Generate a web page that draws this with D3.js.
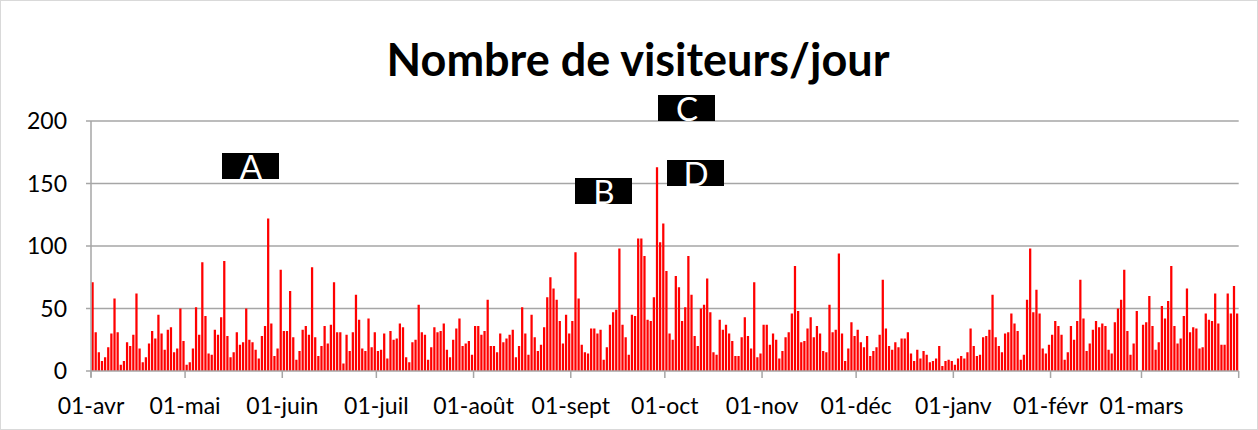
<!DOCTYPE html>
<meta charset="utf-8">
<style>
  body {
    margin: 0;
    background: #fff;
  }
  text {
    font-family: Lato, "Open Sans", sans-serif;
    fill: #000;
  }
</style>
<body>
<div id="chart"></div>
<script src="https://d3js.org/d3.v7.min.js"></script>
<script>
  // daily visitors, one array per month (avril 2015 -> mars 2016)
  const avr  = [71,31,15,8,11,19,30,58,31,5, 8,23,20,29,62,18,7,11,22,32, 26,45,30,17,33,35,15,18,50,24];
  const mai  = [5,7,18,51,29,87,44,14,13,33, 29,43,88,28,11,15,31,21,23,50, 25,23,17,10,28,36,122,38,12,18, 81];
  const juin = [32,32,64,27,9,16,33,36,29, 83,27,12,20,36,22,37,71,31,31, 6,29,16,31,61,41,18,16,42,19, 31];
  const juil = [16,17,30,10,32,25,26,38,35, 11,7,23,25,53,31,29,9,19,35, 31,32,38,17,11,25,34,42,20,22, 24,13];
  const aout = [36,36,29,32,57,20,20,15, 30,23,26,29,33,11,20,51,30,13, 45,27,16,21,35,59,75,66,57,40, 22,45,30];
  const sept = [40,95,58,21,15,14,34, 34,30,33,9,19,37,47,49,98,37, 27,13,45,44,106,106,92,41,40,59, 163,103,118];
  const oct  = [80,30,25,76,67,40,51, 92,61,28,20,50,53,74,47,15,13, 41,33,37,30,24,12,12,27,43,28, 18,71,11,14];
  const nov  = [37,37,21,30,25,10, 16,27,31,46,84,48,23,24,34,43, 27,36,30,16,15,53,31,33,94,30, 8,18,39,28];
  const dec  = [33,23,19,28,12,16, 19,29,73,34,20,17,23,19,26,26, 31,14,8,17,10,16,13,7,8,10, 20,4,8,9,8];
  const janv = [5,10,12,10,15, 34,20,12,13,27,28,33,61,27,20, 15,30,31,46,38,32,9,13,57,98, 47,65,46,18,14,21];
  const fevr = [29,40,36,29, 9,15,36,25,40,73,42,16,22,33, 40,35,38,36,17,14,39,50,57,81, 32,13,22,48,0];
  const mars = [37,39,60,36,17, 23,52,42,56,84,36,22,26,44,66, 31,35,34,18,19,46,41,40,62,38, 21,21,62,46,68,46];

  const monthLabels = ["01-avr", "01-mai", "01-juin", "01-juil", "01-août", "01-sept",
                       "01-oct", "01-nov", "01-déc", "01-janv", "01-févr", "01-mars"];
  const yTicks = [0, 50, 100, 150, 200];
  const notes = [
    { label: "A", x: 222, y: 153 },
    { label: "B", x: 575, y: 178 },
    { label: "C", x: 658, y: 95 },
    { label: "D", x: 667, y: 160 }
  ];

  const monthData = [avr, mai, juin, juil, aout, sept, oct, nov, dec, janv, fevr, mars];
  const visits = monthData.flat();
  const monthStarts = [0, ...d3.cumsum(monthData, m => m.length)].slice(0, 12);

  const width = 1258;
  const height = 430;
  const x0 = 91, x1 = 1238.7, yTop = 121, yBottom = 371;

  const svg = d3.select("#chart")
    .append("svg")
    .attr("width", width)
    .attr("height", height);

  svg.append("rect")
    .attr("x", 0.5).attr("y", 0.5)
    .attr("width", width - 1).attr("height", height - 1)
    .attr("fill", "#fff")
    .attr("stroke", "#d9d9d9");

  const xDay = d3.scaleLinear()
    .domain([0, visits.length])
    .range([x0, x1]);

  const xBar = d3.scaleBand()
    .domain(d3.range(visits.length))
    .range([x0, x1])
    .paddingInner(0.28)
    .paddingOuter(0.14);

  const y = d3.scaleLinear()
    .domain([0, 200])
    .range([yBottom, yTop]);

  // gridlines + y labels
  svg.append("g")
    .selectAll("line")
    .data(yTicks.filter(d => d > 0))
    .join("line")
    .attr("x1", x0 - 5).attr("x2", x1)
    .attr("y1", d => y(d)).attr("y2", d => y(d))
    .attr("stroke", "#a6a6a6")
    .attr("stroke-width", 1.5);

  svg.append("g")
    .selectAll("text")
    .data(yTicks)
    .join("text")
    .attr("x", 67)
    .attr("y", d => y(d) + 8)
    .attr("text-anchor", "end")
    .style("font-size", "23px")
    .text(d => d);

  // bars
  svg.append("g")
    .selectAll("rect")
    .data(visits)
    .join("rect")
    .attr("x", (d, i) => xBar(i))
    .attr("width", xBar.bandwidth())
    .attr("y", d => y(d))
    .attr("height", d => yBottom - y(d))
    .attr("fill", "#ff0000");

  // axes lines
  svg.append("line")
    .attr("x1", x0).attr("x2", x0)
    .attr("y1", yTop).attr("y2", yBottom + 6)
    .attr("stroke", "#a6a6a6").attr("stroke-width", 1.5);
  svg.append("line")
    .attr("x1", x0 - 5).attr("x2", x1)
    .attr("y1", yBottom).attr("y2", yBottom)
    .attr("stroke", "#a6a6a6").attr("stroke-width", 1.5);

  svg.append("g")
    .selectAll("line")
    .data([...monthStarts, visits.length])
    .join("line")
    .attr("x1", d => xDay(d)).attr("x2", d => xDay(d))
    .attr("y1", yBottom).attr("y2", yBottom + 7)
    .attr("stroke", "#a6a6a6").attr("stroke-width", 1.5);

  svg.append("g")
    .selectAll("text")
    .data(monthStarts)
    .join("text")
    .attr("x", d => xDay(d))
    .attr("y", 414)
    .attr("text-anchor", "middle")
    .style("font-size", "23px")
    .text((d, i) => monthLabels[i]);

  // title
  svg.append("text")
    .attr("x", 638)
    .attr("y", 76)
    .attr("text-anchor", "middle")
    .style("font-size", "45px")
    .style("font-weight", "bold")
    .text("Nombre de visiteurs/jour");

  // annotation boxes
  const note = svg.append("g")
    .selectAll("g")
    .data(notes)
    .join("g")
    .attr("transform", d => `translate(${d.x},${d.y})`);

  note.append("rect")
    .attr("width", 57)
    .attr("height", 26)
    .attr("fill", "#000");

  note.append("text")
    .attr("x", 29)
    .attr("y", 26)
    .attr("text-anchor", "middle")
    .style("font-size", "33px")
    .style("fill", "#fff")
    .text(d => d.label);
</script>
</body>
